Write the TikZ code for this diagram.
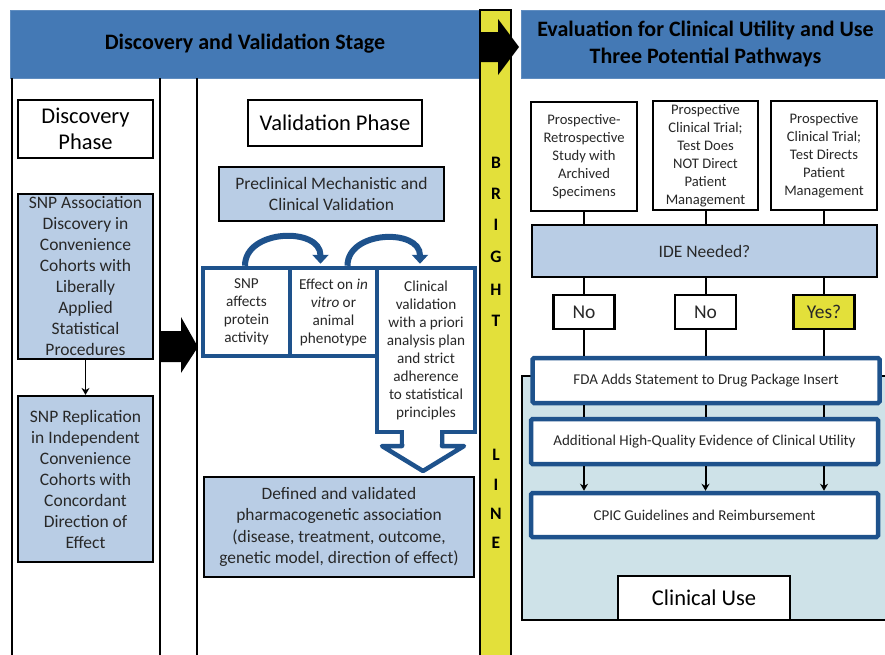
\documentclass[tikz,border=0pt]{standalone}
\usepackage{fontspec}
\setmainfont{Carlito}
\usepackage{xcolor}
\usetikzlibrary{arrows.meta, calc}

\definecolor{bannerblue}{RGB}{68,121,181}
\definecolor{paleblue}{RGB}{185,205,229}
\definecolor{deepblue}{RGB}{30,82,140}
\definecolor{lineyellow}{RGB}{227,224,58}
\definecolor{paneltint}{RGB}{206,226,232}
\definecolor{boxtext}{RGB}{40,40,40}

\tikzset{
  banner/.style={fill=bannerblue, draw=bannerblue!85!white, line width=1pt, align=center, inner sep=0pt,
    font=\fontsize{22}{27}\selectfont\bfseries},
  phasebox/.style={draw=black, line width=2.2pt, fill=white, align=center, inner sep=0pt,
    font=\fontsize{22.5}{26}\selectfont},
  stepcard/.style={draw=black, line width=2.2pt, fill=paleblue, text=boxtext, align=center, inner sep=0pt,
    font=\fontsize{17.5}{21}\selectfont},
  pathcard/.style={draw=black, line width=2.2pt, fill=white, text=boxtext, align=center, inner sep=0pt,
    font=\fontsize{14.6}{18}\selectfont},
  answer/.style={draw=black, line width=2.2pt, fill=white, text=boxtext, inner sep=0pt,
    minimum width=61pt, minimum height=34pt, font=\fontsize{19.5}{20}\selectfont},
  cell/.style={draw=deepblue, line width=4.5pt, fill=white, text=boxtext, align=center, inner sep=0pt,
    font=\fontsize{15.2}{18}\selectfont},
  stripe/.style={cell, rounded corners=1.5pt, minimum width=347pt, minimum height=45pt,
    font=\fontsize{15}{18}\selectfont},
  curl/.style={draw=deepblue, line width=6pt, -{Triangle[length=9pt,width=16pt]}},
  link/.style={line width=2pt},
  letter/.style={font=\fontsize{17.5}{17.5}\selectfont\bfseries, inner sep=0pt},
}

\begin{document}
\begin{tikzpicture}[x=1pt, y=-1pt, >={Stealth[length=7pt,width=8pt]}]
  \useasboundingbox (0,0) rectangle (885,654);

  % headers
  \node[banner, minimum width=470pt, minimum height=68pt] (stage) at (245,44) {Discovery and Validation Stage};
  \node[banner, minimum width=369pt, minimum height=68pt] (pathways) at (705.5,44)
    {Evaluation for Clinical Utility and Use\\Three Potential Pathways};

  % column rules
  \draw[line width=2pt] (12,78) -- (12,656);
  \draw[line width=2pt] (160,78) -- (160,656);
  \draw[line width=2pt] (197,78) -- (197,656);

  % bright line
  \draw[line width=2pt, fill=lineyellow] (480,10) rectangle (511,658);
  \foreach \ch/\y [count=\i] in {B/163,R/194,I/225,G/257,H/290,T/321,L/455,I/485,N/514,E/543}
    \node[letter] (bright\i) at (496,\y) {\ch};
  \fill (481,32) -- (498,32) -- (498,19) -- (519,47) -- (498,75) -- (498,62) -- (481,62) -- cycle;

  % discovery phase
  \node[phasebox, minimum width=135pt, minimum height=58pt] (discovery) at (85.5,129) {Discovery\\Phase};
  \node[stepcard, minimum width=135pt, minimum height=165pt] (assoc) at (85.5,276.5)
    {SNP Association\\Discovery in\\Convenience\\Cohorts with\\Liberally\\Applied\\Statistical\\Procedures};
  \node[stepcard, minimum width=135pt, minimum height=166pt] (replic) at (85.5,479)
    {SNP Replication\\in Independent\\Convenience\\Cohorts with\\Concordant\\Direction of\\Effect};
  \draw[->, line width=1.6pt] (assoc) -- (replic);

  \fill (161,331) -- (181,331) -- (181,317) -- (198,347) -- (181,373) -- (181,362) -- (161,362) -- cycle;

  % validation phase
  \node[phasebox, minimum width=174pt, minimum height=46pt] (validation) at (335,123) {Validation Phase};
  \node[stepcard, minimum width=225pt, minimum height=54pt] (preclin) at (331.5,194)
    {Preclinical Mechanistic and\\Clinical Validation};

  \node[cell, minimum width=87pt, minimum height=88pt] (snpcell) at (246.5,312) {SNP\\affects\\protein\\activity};
  \node[cell, minimum width=87pt, minimum height=88pt] (effcell) at (333.5,312)
    {Effect on \textit{in}\\\textit{vitro} or\\animal\\phenotype};
  \node[cell, minimum width=98pt, minimum height=164pt] (clincell) at (426,350)
    {Clinical\\validation\\with a priori\\analysis plan\\and strict\\adherence\\to statistical\\principles};
  \draw[deepblue, line width=4.5pt, fill=white, line join=round]
    (402,432) -- (402,446) -- (382,446) -- (423,471) -- (464,446) -- (442,446) -- (442,432);
  \fill[white] (404.4,429.4) rectangle (439.6,444);

  \draw[curl] ([xshift=-1.5pt]snpcell.north) to[out=90, in=90, looseness=1.25] ([xshift=-13pt,yshift=2pt]effcell.north);
  \draw[curl] ([xshift=14pt]effcell.north) to[out=90, in=90, looseness=1.25] ([xshift=-6pt,yshift=2pt]clincell.north);

  \node[stepcard, font=\fontsize{17.4}{21.5}\selectfont, minimum width=270pt, minimum height=100pt] (defined) at (339,527)
    {Defined and validated\\pharmacogenetic association\\(disease, treatment, outcome,\\genetic model, direction of effect)};

  % three pathways
  \node[pathcard, minimum width=106pt, minimum height=109pt] (pathA) at (584,156.5)
    {Prospective-\\Retrospective\\Study with\\Archived\\Specimens};
  \node[pathcard, minimum width=105pt, minimum height=109pt] (pathB) at (705.5,155.5)
    {Prospective\\Clinical Trial;\\Test Does\\NOT Direct\\Patient\\Management};
  \node[pathcard, minimum width=106pt, minimum height=109pt] (pathC) at (824,155.5)
    {Prospective\\Clinical Trial;\\Test Directs\\Patient\\Management};

  \node[stepcard, minimum width=345pt, minimum height=52pt] (ide) at (704.5,251) {IDE Needed?};

  \node[answer] (noA) at (584,312) {No};
  \node[answer] (noB) at (705.5,312) {No};
  \node[answer, fill=lineyellow] (yesC) at (824,312) {Yes?};

  \draw[line width=2pt, fill=paneltint] (522,376) rectangle (890,620);

  \node[stripe] (fda) at (706,380.5) {FDA Adds Statement to Drug Package Insert};
  \node[stripe] (extra) at (704.5,441.5) {Additional High-Quality Evidence of Clinical Utility};
  \node[stripe, minimum height=44pt] (cpic) at (704.5,515) {CPIC Guidelines and Reimbursement};
  \node[phasebox, minimum width=172pt, minimum height=44pt] (use) at (704,598) {Clinical Use};

  \foreach \p/\a in {pathA/noA, pathB/noB, pathC/yesC}{
    \draw[link] (\p.south) -- (\p.south |- ide.north);
    \draw[link] (\a.north |- ide.south) -- (\a.north);
    \draw[link] (\a.south) -- (\a.south |- fda.north);
    \draw[link] (\a.south |- fda.south) -- (\a.south |- extra.north);
    \draw[link, ->] (\a.south |- extra.south) -- (\a.south |- cpic.north);
  }
\end{tikzpicture}
\end{document}
